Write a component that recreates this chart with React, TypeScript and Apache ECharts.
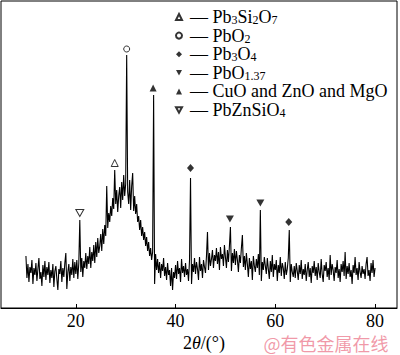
import React, { useEffect, useRef } from "react";
import * as echarts from "echarts";

// 2θ sampling of the measured pattern
const thetaStart = 10;
const thetaStep = 0.2;

const intensity: number[] = [
  52, 30, 44, 26, 41, 35, 48, 24, 40, 33,
  45, 27, 39, 50, 29, 36, 22, 43, 31, 47,
  28, 41, 33, 46, 25, 38, 30, 44, 21, 37,
  42, 29, 18, 39, 34, 47, 26, 40, 31, 45,
  55, 19, 36, 44, 27, 41, 33, 49, 30, 46,
  34, 48, 29, 45, 88, 36, 50, 31, 47, 40,
  55, 39, 52, 44, 61, 40, 56, 47, 63, 45,
  66, 51, 70, 55, 62, 74, 57, 79, 64, 83,
  72, 122, 80, 95, 86, 102, 92, 110, 99, 138,
  104, 118, 96, 112, 121, 100, 126, 108, 133, 112,
  124, 253, 116, 104, 128, 98, 122, 135, 97, 112,
  94, 104, 86, 92, 78, 88, 72, 81, 68, 76,
  62, 71, 57, 66, 52, 60, 48, 56, 213, 24,
  54, 38, 49, 35, 46, 30, 44, 37, 50, 32,
  41, 28, 45, 33, 38, 22, 40, 18, 36, 30,
  43, 29, 47, 34, 40, 26, 49, 35, 42, 31,
  45, 33, 39, 27, 48, 130, 24, 44, 36, 50,
  34, 46, 39, 28, 51, 37, 44, 30, 48, 41,
  35, 52, 76, 38, 55, 42, 49, 58, 40, 53,
  47, 60, 44, 56, 38, 61, 49, 54, 42, 63,
  51, 40, 58, 46, 62, 81, 37, 55, 45, 59,
  43, 57, 48, 36, 53, 45, 60, 73, 41, 52,
  38, 55, 44, 31, 50, 39, 47, 28, 52, 42,
  36, 49, 40, 54, 33, 98, 27, 46, 38, 51,
  42, 34, 50, 39, 29, 47, 36, 53, 31, 44,
  38, 48, 27, 43, 35, 51, 32, 45, 40, 29,
  46, 33, 39, 50, 78, 26, 44, 36, 31, 42,
  30, 45, 37, 28, 43, 34, 48, 29, 39, 33,
  44, 27, 38, 46, 31, 40, 25, 42, 35, 47,
  32, 41, 28, 45, 36, 30, 49, 34, 26, 43,
  37, 46, 31, 40, 28, 53, 33, 44, 38, 27,
  41, 35, 48, 30, 39, 26, 44, 36, 47, 32,
  56, 29, 42, 34, 45, 31, 38, 24, 43, 35,
  51, 33, 40, 28, 46, 36, 30, 42, 34, 39,
  29, 44, 51, 32, 38, 27, 45, 35, 48, 31,
  40,
];

// Phase markers: [2θ, marker height]
const pb3si2o7 = [[27.8, 145]];
const pbo2 = [[30.2, 259]];
const pb3o4 = [[43.0, 140], [62.7, 86]];
const pbo137 = [[50.9, 89], [57.0, 105]];
const cuoZnoMgo = [[35.5, 220]];
const pbznsio4 = [[20.8, 95]];

const xTicks = [20, 40, 60, 80];

const legendNames = ["Pb3Si2O7", "PbO2", "Pb3O4", "PbO1.37", "CuO and ZnO and MgO", "PbZnSiO4"];
const legendRich: Record<string, string> = {
  Pb3Si2O7: "— Pb{s|3}Si{s|2}O{s|7}",
  PbO2: "— PbO{s|2}",
  Pb3O4: "— Pb{s|3}O{s|4}",
  "PbO1.37": "— PbO{s|1.37}",
  "CuO and ZnO and MgO": "— CuO and ZnO and MgO",
  PbZnSiO4: "— PbZnSiO{s|4}",
};

const serif = "Liberation Serif";
const downTriangle = "path://M0,0 L10,0 L5,9 Z";

export default function App() {
  const ref = useRef<HTMLDivElement>(null);
  useEffect(() => {
    document.body.style.margin = "0";
    if (!ref.current) return;
    const chart = echarts.init(ref.current, null, { renderer: "svg" });
    const lineData = intensity.map((v, i) => [
      +(thetaStart + i * thetaStep).toFixed(2),
      v,
    ]);
    const hollow = { color: "#fff", borderColor: "#000", borderWidth: 1 };
    const solid = { color: "#000" };
    const marker = (name: string, data: number[][], symbol: string, style: any, size: any = 7) => ({
      name,
      type: "scatter",
      data,
      symbol,
      symbolSize: size,
      itemStyle: style,
      z: 5,
    });
    chart.setOption({
      animation: false,
      grid: {
        show: true,
        left: 1,
        right: 3,
        top: 1,
        bottom: 47,
        borderColor: "#000",
        borderWidth: 1,
        backgroundColor: "#fff",
      },
      legend: {
        orient: "vertical",
        left: 175,
        top: 8,
        padding: 0,
        itemWidth: 6,
        itemHeight: 6,
        itemGap: 0.6,
        data: legendNames,
        formatter: (name: string) => legendRich[name] || name,
        textStyle: {
          fontFamily: serif,
          fontSize: 18,
          color: "#000",
          lineHeight: 18,
          padding: [0, 0, 0, 3],
          rich: {
            s: {
              fontFamily: serif,
              fontSize: 12,
              lineHeight: 11,
              verticalAlign: "bottom",
              color: "#000",
            },
          },
        },
      },
      xAxis: {
        type: "value",
        min: 5,
        max: 84.4,
        axisLine: { show: true, lineStyle: { color: "#000", width: 1 } },
        axisTick: {
          show: true,
          inside: true,
          length: 4,
          customValues: xTicks,
          lineStyle: { color: "#000" },
        },
        axisLabel: {
          customValues: xTicks,
          fontFamily: serif,
          fontSize: 18,
          lineHeight: 17,
          color: "#000",
          margin: 4,
        },
        splitLine: { show: false },
      },
      yAxis: {
        type: "value",
        min: 0,
        max: 307,
        show: false,
      },
      series: [
        {
          type: "line",
          name: "pattern",
          data: lineData,
          showSymbol: false,
          lineStyle: { color: "#000", width: 1.1 },
          z: 2,
        },
        marker("Pb3Si2O7", pb3si2o7, "triangle", hollow),
        marker("PbO2", pbo2, "circle", hollow, 6),
        marker("Pb3O4", pb3o4, "diamond", solid, [7, 8]),
        marker("PbO1.37", pbo137, downTriangle, solid, [8, 7]),
        marker("CuO and ZnO and MgO", cuoZnoMgo, "triangle", solid),
        marker("PbZnSiO4", pbznsio4, downTriangle, hollow, [8, 7]),
      ],
      graphic: [
        {
          type: "text",
          x: 204,
          y: 343,
          style: {
            text: "2{i|θ}/(°)",
            fontFamily: serif,
            fontSize: 18,
            fill: "#000",
            align: "center",
            verticalAlign: "middle",
            rich: {
              i: { fontFamily: serif, fontSize: 18, fontStyle: "italic", fill: "#000" },
            },
          },
        },
        {
          type: "text",
          x: 326,
          y: 343,
          style: {
            text: "@有色金属在线",
            fontFamily: "Noto Sans CJK SC",
            fontSize: 18,
            lineHeight: 18,
            fill: "rgba(236,120,140,0.75)",
            align: "center",
            verticalAlign: "middle",
          },
        },
      ],
    });
    return () => chart.dispose();
  }, []);
  return (
    <div
      ref={ref}
      style={{ position: "absolute", left: 0, top: 0, width: 400, height: 355 }}
    />
  );
}
